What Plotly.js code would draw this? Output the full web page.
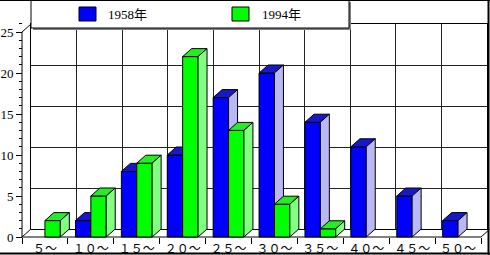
<!DOCTYPE html>
<html><head><meta charset="utf-8">
<script src="https://cdn.plot.ly/plotly-3.0.1.min.js"></script>
<style>html,body{margin:0;padding:0;background:#fff}#c{width:490px;height:255px}</style>
</head><body><div id="c"></div>
<script>
// ---- data ----
const categories = ['５～','１０～','１５～','２０～','２５～','３０～','３５～','４０～','４５～','５０～'];
const series1958 = [0, 2, 8, 10, 17, 20, 14, 11, 5, 2];
const series1994 = [2, 5, 9, 22, 13, 4, 1, 0, 0, 0];
const seriesNames = ['1958年', '1994年'];
const yTickLabels = [0, 5, 10, 15, 20, 25];

// ---- geometry / style ----
const W = 490, H = 255;
const XU = 45.9, YU = 8.2;          // px per category / per unit
const BAR_W = 0.335, DX = 9 / XU, DY = 8 / YU;
const SERIF = 'Liberation Serif, Noto Sans CJK JP, serif';
const colors = [
  {front: '#0000ff', top: '#1818c8', side: '#b8b8f4'},
  {front: '#00ff00', top: '#22ee22', side: '#80ff80'}
];
const px = x => x / W, py = y => (H - y) / H;

const traces = [];
// back wall placeholder trace (subplot xy)
traces.push({type: 'scatter', x: [null], y: [null], xaxis: 'x', yaxis: 'y', showlegend: false, hoverinfo: 'skip'});
// front frame (axis + floor edges)
traces.push({type: 'scatter', mode: 'lines', xaxis: 'x2', yaxis: 'y2', showlegend: false, hoverinfo: 'skip',
  x: [-0.5 + DX, -0.5, -0.5, categories.length - 0.5, categories.length - 0.5 + DX, null, -0.5, -0.5 + DX],
  y: [25 + DY, 25, 0, 0, DY, null, 0, DY],
  line: {color: '#000', width: 1}});

function face(xs, ys, fc) {
  traces.push({type: 'scatter', mode: 'lines', xaxis: 'x2', yaxis: 'y2', showlegend: false, hoverinfo: 'skip',
    x: xs, y: ys, fill: 'toself', fillcolor: fc, line: {color: '#000', width: 1}});
}
function box(x0, x1, h, c) {
  face([x0, x1, x1, x0, x0], [0, 0, h, h, 0], c.front);
  face([x0, x1, x1 + DX, x0 + DX, x0], [h, h, h + DY, h + DY, h], c.top);
  face([x1, x1 + DX, x1 + DX, x1, x1], [0, DY, h + DY, h, 0], c.side);
}
const allSeries = [series1958, series1994];
categories.forEach((cat, i) => {
  allSeries.forEach((s, k) => {
    const v = s[i];
    if (!v) return;
    const x0 = k === 0 ? i - BAR_W : i;
    box(x0, x0 + BAR_W, v, colors[k]);
  });
});

const boundaries = categories.map((c, i) => i - 0.5).concat([categories.length - 0.5]);

const layout = {
  width: W, height: H,
  margin: {l: 0, r: 0, t: 0, b: 0},
  paper_bgcolor: '#fff', plot_bgcolor: 'rgba(0,0,0,0)',
  showlegend: false,
  // back wall
  xaxis: {domain: [px(31), px(487)], range: [-0.5, categories.length - 0.5], anchor: 'y',
    tickmode: 'array', tickvals: boundaries, showticklabels: false, ticks: '',
    showgrid: true, gridcolor: '#222', gridwidth: 1, zeroline: false,
    showline: true, mirror: true, linecolor: '#000', linewidth: 1, fixedrange: true},
  yaxis: {domain: [py(229), py(24)], range: [0, 25], anchor: 'x',
    tickmode: 'array', tickvals: yTickLabels, showticklabels: false, ticks: '',
    showgrid: true, gridcolor: '#222', gridwidth: 1, zeroline: false,
    showline: true, mirror: true, linecolor: '#000', linewidth: 1, fixedrange: true},
  // front
  xaxis2: {domain: [px(20), px(490)], range: [-0.5 - 2 / XU, -0.5 + 468 / XU],
    anchor: 'free', position: py(237),
    tickmode: 'array', tickvals: categories.map((c, i) => i), ticktext: categories, ticks: '',
    minor: {tickmode: 'array', tickvals: boundaries, ticks: 'outside', ticklen: 6, tickcolor: '#000', tickwidth: 1, showgrid: false},
    tickfont: {family: SERIF, size: 12, color: '#000'}, ticklabelstandoff: 3,
    showline: false, showgrid: false, zeroline: false, fixedrange: true},
  yaxis2: {domain: [py(240), py(23)], range: [-3 / YU, (237 - 23) / YU],
    anchor: 'free', position: px(22),
    tickmode: 'array', tickvals: yTickLabels, ticks: 'outside', ticklen: 6, tickcolor: '#000', tickwidth: 1,
    minor: {dtick: 1, tick0: 0, ticks: 'outside', ticklen: 3, tickcolor: '#000', tickwidth: 1, showgrid: false},
    tickfont: {family: SERIF, size: 13, color: '#000'},
    showline: false, showgrid: false, zeroline: false, fixedrange: true},
  shapes: [
    // legend shadow + box
    {type: 'rect', xref: 'paper', yref: 'paper', x0: px(33), x1: px(351), y0: py(30), y1: py(2), fillcolor: '#808080', line: {width: 0}},
    {type: 'rect', xref: 'paper', yref: 'paper', x0: px(31), x1: px(349), y0: py(28), y1: py(0.5), fillcolor: '#fff', line: {color: '#000', width: 1}},
    {type: 'rect', xref: 'paper', yref: 'paper', x0: px(79), x1: px(96), y0: py(21), y1: py(7), fillcolor: colors[0].front, line: {color: '#000', width: 1}},
    {type: 'rect', xref: 'paper', yref: 'paper', x0: px(232), x1: px(249), y0: py(21), y1: py(7), fillcolor: colors[1].front, line: {color: '#000', width: 1}},
    // outer frame (top, right, bottom)
    {type: 'line', xref: 'paper', yref: 'paper', x0: 0, x1: 1, y0: py(0.5), y1: py(0.5), line: {color: '#000', width: 1}},
    {type: 'line', xref: 'paper', yref: 'paper', x0: px(488.5), x1: px(488.5), y0: 0, y1: 1, line: {color: '#000', width: 2}},
    {type: 'line', xref: 'paper', yref: 'paper', x0: 0, x1: 1, y0: py(253.5), y1: py(253.5), line: {color: '#000', width: 2}}
  ],
  annotations: [
    {xref: 'paper', yref: 'paper', x: px(106), y: py(14), xanchor: 'left', yanchor: 'middle', showarrow: false,
      text: seriesNames[0], font: {family: SERIF, size: 13, color: '#000'}},
    {xref: 'paper', yref: 'paper', x: px(260), y: py(14), xanchor: 'left', yanchor: 'middle', showarrow: false,
      text: seriesNames[1], font: {family: SERIF, size: 13, color: '#000'}}
  ]
};

Plotly.newPlot('c', traces, layout, {staticPlot: true, displayModeBar: false});
</script></body></html>
